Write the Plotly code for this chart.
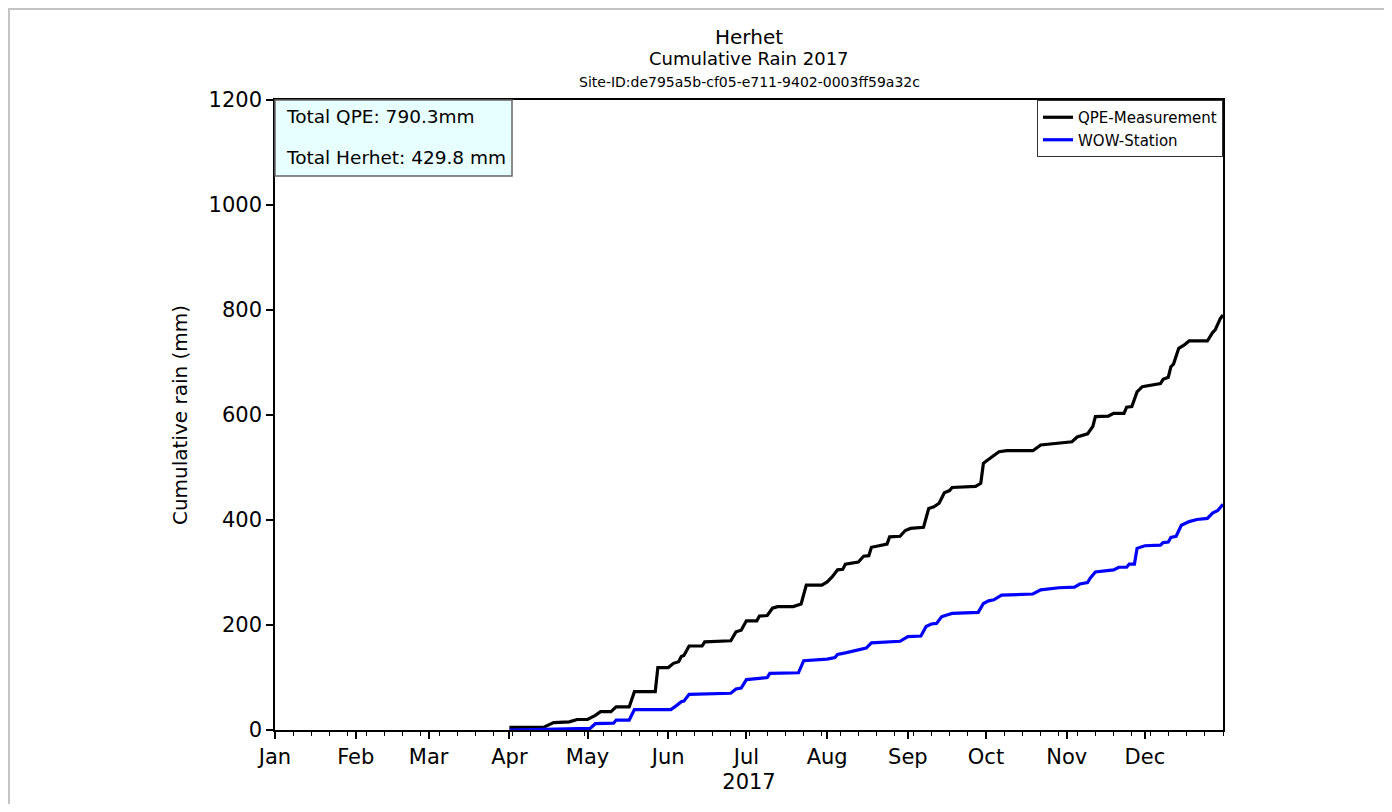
import plotly.graph_objects as go

# ---- data ----
qpe_dates = ["2017-04-01", "2017-04-14", "2017-04-18", "2017-04-24", "2017-04-27", "2017-05-01",
             "2017-05-04", "2017-05-06", "2017-05-10", "2017-05-12", "2017-05-17", "2017-05-19",
             "2017-05-27", "2017-05-28", "2017-06-01", "2017-06-03", "2017-06-05", "2017-06-06",
             "2017-06-07", "2017-06-09", "2017-06-14", "2017-06-15", "2017-06-25", "2017-06-27",
             "2017-06-29", "2017-07-01", "2017-07-05", "2017-07-06", "2017-07-09", "2017-07-11",
             "2017-07-13", "2017-07-19", "2017-07-22", "2017-07-24", "2017-07-30", "2017-08-01",
             "2017-08-03", "2017-08-05", "2017-08-07", "2017-08-08", "2017-08-13", "2017-08-15",
             "2017-08-17", "2017-08-18", "2017-08-20", "2017-08-24", "2017-08-25", "2017-08-29",
             "2017-08-31", "2017-09-02", "2017-09-07", "2017-09-09", "2017-09-11", "2017-09-13",
             "2017-09-15", "2017-09-17", "2017-09-18", "2017-09-27", "2017-09-29", "2017-09-30",
             "2017-10-01", "2017-10-03", "2017-10-06", "2017-10-09", "2017-10-19", "2017-10-22",
             "2017-11-03", "2017-11-05", "2017-11-09", "2017-11-11", "2017-11-12", "2017-11-17",
             "2017-11-19", "2017-11-23", "2017-11-24", "2017-11-26", "2017-11-28", "2017-11-30",
             "2017-12-04", "2017-12-07", "2017-12-08", "2017-12-10", "2017-12-11", "2017-12-12",
             "2017-12-14", "2017-12-16", "2017-12-18", "2017-12-25", "2017-12-27", "2017-12-28",
             "2017-12-30", "2017-12-31"]
qpe_values = [5, 5, 14, 15.6, 20, 20,
              28, 35, 35, 44, 44, 73,
              73, 119, 119, 127, 130, 140,
              142, 160, 160, 168, 170, 187,
              190, 208, 208, 217, 218, 232,
              235, 235, 240, 276, 276, 282,
              292, 305, 306, 316, 320, 331,
              332, 348, 350, 354, 368, 369,
              380, 384, 386, 422, 425, 432,
              452, 456, 462, 464, 470, 508,
              512, 519, 530, 532, 532, 543,
              549, 558, 564, 578, 597, 598,
              603, 603, 615, 616, 644, 654,
              658, 660, 668, 672, 692, 697,
              727, 733, 741, 741, 757, 762,
              784, 790.3]

wow_dates = ["2017-04-01", "2017-04-15", "2017-04-21", "2017-05-02", "2017-05-04", "2017-05-11",
             "2017-05-12", "2017-05-17", "2017-05-19", "2017-06-02", "2017-06-04", "2017-06-06",
             "2017-06-07", "2017-06-09", "2017-06-25", "2017-06-27", "2017-06-29", "2017-07-01",
             "2017-07-05", "2017-07-09", "2017-07-10", "2017-07-21", "2017-07-23", "2017-08-01",
             "2017-08-04", "2017-08-05", "2017-08-08", "2017-08-12", "2017-08-14", "2017-08-16",
             "2017-08-18", "2017-08-24", "2017-08-29", "2017-09-01", "2017-09-06", "2017-09-08",
             "2017-09-10", "2017-09-12", "2017-09-14", "2017-09-16", "2017-09-18", "2017-09-28",
             "2017-09-30", "2017-10-02", "2017-10-04", "2017-10-07", "2017-10-19", "2017-10-22",
             "2017-10-24", "2017-10-29", "2017-11-04", "2017-11-06", "2017-11-09", "2017-11-10",
             "2017-11-12", "2017-11-19", "2017-11-21", "2017-11-24", "2017-11-25", "2017-11-27",
             "2017-11-28", "2017-12-01", "2017-12-07", "2017-12-08", "2017-12-10", "2017-12-11",
             "2017-12-13", "2017-12-15", "2017-12-18", "2017-12-21", "2017-12-25", "2017-12-27",
             "2017-12-29", "2017-12-31"]
wow_values = [0, 1, 2, 3, 12, 13,
              19, 19, 39, 39, 46, 54,
              55, 68, 70, 78, 80, 96,
              98, 100, 108, 109, 132, 135,
              138, 144, 147, 151, 154, 156,
              166, 168, 169, 178, 179, 197,
              202, 203, 216, 219, 222, 224,
              241, 246, 248, 257, 259, 267,
              268, 271, 272, 278, 281, 289,
              301, 305, 310, 310, 316, 316,
              346, 351, 352, 357, 358, 367,
              369, 390, 397, 401, 403, 413,
              418, 429.8]

y_ticks = [0, 200, 400, 600, 800, 1000, 1200]
title_lines = ["Herhet", "Cumulative Rain 2017", "Site-ID:de795a5b-cf05-e711-9402-0003ff59a32c"]
box_lines = ["Total QPE: 790.3mm", "Total Herhet: 429.8 mm"]
series_names = ["QPE-Measurement", "WOW-Station"]

FONT = "DejaVu Sans"
OFF = 8                               # browser body margin
W, H = 1392 - 2 * OFF, 812 - 2 * OFF  # figure size so the page does not overflow
L, R, T, B = 275, 1223, 100, 730      # wanted plot-area bounds, in screen pixels


def px(xpix):
    return (xpix - L) / (R - L)


def py(ypix):
    return (B - ypix) / (B - T)


fig = go.Figure()
fig.add_trace(go.Scatter(x=qpe_dates, y=qpe_values, mode="lines", name=series_names[0],
                         line=dict(color="#000000", width=3.2)))
fig.add_trace(go.Scatter(x=wow_dates, y=wow_values, mode="lines", name=series_names[1],
                         line=dict(color="#0000ff", width=3.2)))

fig.update_layout(
    width=W, height=H,
    margin=dict(l=L - OFF, r=W + OFF - R, t=T - OFF, b=H + OFF - B, pad=0),
    paper_bgcolor="white", plot_bgcolor="white",
    font=dict(family=FONT, color="black", size=20),
    showlegend=True,
    legend=dict(x=1, xanchor="right", y=1, yanchor="top",
                bgcolor="white", bordercolor="#333333", borderwidth=1,
                font=dict(family=FONT, size=15), tracegroupgap=0,
                itemwidth=30),
)

fig.update_xaxes(
    range=["2017-01-01", "2017-12-31"],
    type="date",
    tick0="2017-01-01", dtick="M1", tickformat="%b",
    ticks="outside", ticklen=7, tickwidth=1.5, tickcolor="black",
    showline=True, linecolor="black", linewidth=1.5, mirror=True,
    showgrid=False, zeroline=False,
    tickfont=dict(family=FONT, size=21),
    minor=dict(dtick=7 * 86400000, tick0="2017-01-01", ticks="outside",
               ticklen=4, tickwidth=1, tickcolor="black", showgrid=False),
    title=dict(text="2017", font=dict(family=FONT, size=21), standoff=6),
)
fig.update_yaxes(
    range=[0, 1200],
    tickvals=y_ticks,
    ticks="outside", ticklen=7, tickwidth=1.5, tickcolor="black",
    showline=True, linecolor="black", linewidth=1.5, mirror=True,
    showgrid=False, zeroline=False,
    tickfont=dict(family=FONT, size=21),
    title=dict(text="Cumulative rain (mm)", font=dict(family=FONT, size=20), standoff=16),
)

# titles
fig.add_annotation(text=title_lines[0], xref="paper", yref="paper", x=px(749), y=py(37),
                   showarrow=False, xanchor="center", yanchor="middle",
                   font=dict(family=FONT, size=20))
fig.add_annotation(text=title_lines[1], xref="paper", yref="paper", x=px(749), y=py(58),
                   showarrow=False, xanchor="center", yanchor="middle",
                   font=dict(family=FONT, size=18))
fig.add_annotation(text=title_lines[2], xref="paper", yref="paper", x=px(749), y=py(82),
                   showarrow=False, xanchor="center", yanchor="middle",
                   font=dict(family=FONT, size=14))

# text box
fig.add_shape(type="rect", xref="paper", yref="paper",
              x0=px(275), x1=px(512), y0=py(176), y1=py(100),
              fillcolor="#e8ffff", line=dict(color="#666666", width=1.5), layer="above")
fig.add_annotation(text=box_lines[0], xref="paper", yref="paper", x=px(284), y=py(116),
                   showarrow=False, xanchor="left", yanchor="middle",
                   font=dict(family=FONT, size=18.5))
fig.add_annotation(text=box_lines[1], xref="paper", yref="paper", x=px(284), y=py(157),
                   showarrow=False, xanchor="left", yanchor="middle",
                   font=dict(family=FONT, size=18.5))

# outer light-grey frame of the picture
fig.add_shape(type="rect", xref="paper", yref="paper",
              x0=px(9), x1=px(1387), y0=py(830), y1=py(9),
              line=dict(color="#c4c4c4", width=2), fillcolor="rgba(0,0,0,0)", layer="below")

fig.write_html("out.html")
